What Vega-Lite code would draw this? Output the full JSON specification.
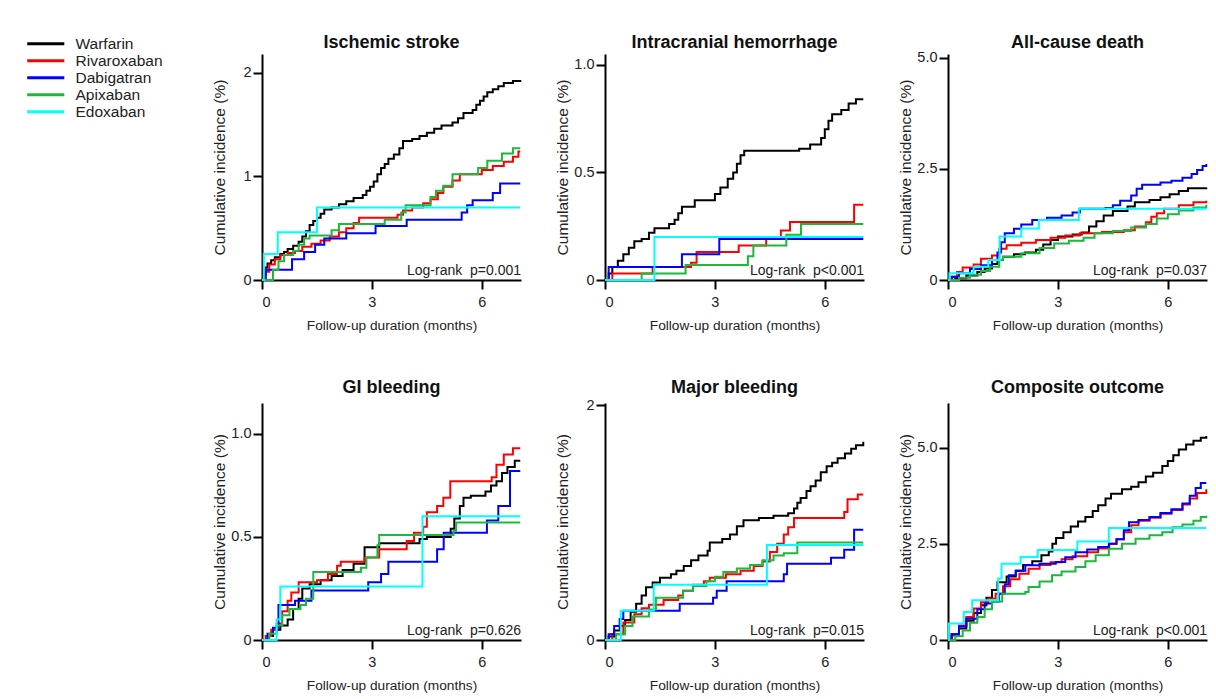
{
 "$schema": "https://vega.github.io/schema/vega-lite/v6.json",
 "background": "white",
 "padding": {"left": 38, "top": 33, "right": 5, "bottom": 5},
 "columns": 3,
 "spacing": {"row": 123, "column": 84},
 "bounds": "flush",
 "align": "each",
 "datasets": {
  "IS": [
   {"d":"Warfarin","t":0,"y":0},{"d":"Warfarin","t":0.05,"y":0.05},{"d":"Warfarin","t":0.1,"y":0.12},{"d":"Warfarin","t":0.15,"y":0.16},{"d":"Warfarin","t":0.25,"y":0.19},{"d":"Warfarin","t":0.35,"y":0.22},{"d":"Warfarin","t":0.5,"y":0.25},{"d":"Warfarin","t":0.6,"y":0.27},{"d":"Warfarin","t":0.7,"y":0.3},{"d":"Warfarin","t":0.85,"y":0.33},{"d":"Warfarin","t":1.0,"y":0.37},{"d":"Warfarin","t":1.1,"y":0.42},{"d":"Warfarin","t":1.2,"y":0.47},{"d":"Warfarin","t":1.3,"y":0.53},{"d":"Warfarin","t":1.4,"y":0.57},{"d":"Warfarin","t":1.5,"y":0.6},{"d":"Warfarin","t":1.6,"y":0.64},{"d":"Warfarin","t":1.7,"y":0.68},{"d":"Warfarin","t":1.9,"y":0.7},{"d":"Warfarin","t":2.1,"y":0.73},{"d":"Warfarin","t":2.3,"y":0.76},{"d":"Warfarin","t":2.5,"y":0.79},{"d":"Warfarin","t":2.75,"y":0.82},{"d":"Warfarin","t":2.85,"y":0.86},{"d":"Warfarin","t":2.95,"y":0.9},{"d":"Warfarin","t":3.05,"y":0.95},{"d":"Warfarin","t":3.15,"y":1.02},{"d":"Warfarin","t":3.25,"y":1.08},{"d":"Warfarin","t":3.35,"y":1.12},{"d":"Warfarin","t":3.45,"y":1.17},{"d":"Warfarin","t":3.6,"y":1.21},{"d":"Warfarin","t":3.75,"y":1.27},{"d":"Warfarin","t":3.85,"y":1.34},{"d":"Warfarin","t":4.1,"y":1.36},{"d":"Warfarin","t":4.3,"y":1.39},{"d":"Warfarin","t":4.5,"y":1.42},{"d":"Warfarin","t":4.7,"y":1.46},{"d":"Warfarin","t":4.9,"y":1.49},{"d":"Warfarin","t":5.2,"y":1.52},{"d":"Warfarin","t":5.35,"y":1.56},{"d":"Warfarin","t":5.5,"y":1.61},{"d":"Warfarin","t":5.75,"y":1.64},{"d":"Warfarin","t":5.85,"y":1.69},{"d":"Warfarin","t":5.95,"y":1.73},{"d":"Warfarin","t":6.05,"y":1.77},{"d":"Warfarin","t":6.15,"y":1.81},{"d":"Warfarin","t":6.3,"y":1.84},{"d":"Warfarin","t":6.45,"y":1.87},{"d":"Warfarin","t":6.6,"y":1.9},{"d":"Warfarin","t":6.85,"y":1.92},{"d":"Warfarin","t":7.05,"y":1.93},
   {"d":"Rivaroxaban","t":0,"y":0},{"d":"Rivaroxaban","t":0.1,"y":0.08},{"d":"Rivaroxaban","t":0.2,"y":0.15},{"d":"Rivaroxaban","t":0.35,"y":0.2},{"d":"Rivaroxaban","t":0.5,"y":0.24},{"d":"Rivaroxaban","t":0.7,"y":0.26},{"d":"Rivaroxaban","t":0.9,"y":0.28},{"d":"Rivaroxaban","t":1.1,"y":0.32},{"d":"Rivaroxaban","t":1.35,"y":0.35},{"d":"Rivaroxaban","t":1.6,"y":0.38},{"d":"Rivaroxaban","t":1.85,"y":0.42},{"d":"Rivaroxaban","t":2.1,"y":0.46},{"d":"Rivaroxaban","t":2.3,"y":0.5},{"d":"Rivaroxaban","t":2.5,"y":0.55},{"d":"Rivaroxaban","t":2.65,"y":0.6},{"d":"Rivaroxaban","t":3.7,"y":0.63},{"d":"Rivaroxaban","t":3.85,"y":0.67},{"d":"Rivaroxaban","t":4.1,"y":0.7},{"d":"Rivaroxaban","t":4.4,"y":0.74},{"d":"Rivaroxaban","t":4.6,"y":0.78},{"d":"Rivaroxaban","t":4.8,"y":0.84},{"d":"Rivaroxaban","t":4.95,"y":0.9},{"d":"Rivaroxaban","t":5.2,"y":0.96},{"d":"Rivaroxaban","t":5.4,"y":1.02},{"d":"Rivaroxaban","t":6.0,"y":1.06},{"d":"Rivaroxaban","t":6.3,"y":1.1},{"d":"Rivaroxaban","t":6.6,"y":1.14},{"d":"Rivaroxaban","t":6.85,"y":1.19},{"d":"Rivaroxaban","t":7.0,"y":1.24},{"d":"Rivaroxaban","t":7.05,"y":1.24},
   {"d":"Dabigatran","t":0,"y":0},{"d":"Dabigatran","t":0.1,"y":0.1},{"d":"Dabigatran","t":0.82,"y":0.2},{"d":"Dabigatran","t":1.15,"y":0.27},{"d":"Dabigatran","t":1.45,"y":0.34},{"d":"Dabigatran","t":1.7,"y":0.4},{"d":"Dabigatran","t":2.3,"y":0.45},{"d":"Dabigatran","t":3.1,"y":0.52},{"d":"Dabigatran","t":3.95,"y":0.58},{"d":"Dabigatran","t":5.45,"y":0.65},{"d":"Dabigatran","t":5.6,"y":0.72},{"d":"Dabigatran","t":5.75,"y":0.77},{"d":"Dabigatran","t":6.3,"y":0.84},{"d":"Dabigatran","t":6.5,"y":0.93},{"d":"Dabigatran","t":7.05,"y":0.93},
   {"d":"Apixaban","t":0,"y":0},{"d":"Apixaban","t":0.3,"y":0.1},{"d":"Apixaban","t":0.45,"y":0.18},{"d":"Apixaban","t":0.6,"y":0.24},{"d":"Apixaban","t":0.85,"y":0.28},{"d":"Apixaban","t":1.0,"y":0.34},{"d":"Apixaban","t":1.15,"y":0.4},{"d":"Apixaban","t":1.3,"y":0.43},{"d":"Apixaban","t":1.9,"y":0.48},{"d":"Apixaban","t":2.1,"y":0.54},{"d":"Apixaban","t":3.35,"y":0.58},{"d":"Apixaban","t":3.8,"y":0.65},{"d":"Apixaban","t":3.92,"y":0.72},{"d":"Apixaban","t":4.6,"y":0.8},{"d":"Apixaban","t":4.75,"y":0.86},{"d":"Apixaban","t":4.95,"y":0.91},{"d":"Apixaban","t":5.2,"y":1.02},{"d":"Apixaban","t":5.9,"y":1.08},{"d":"Apixaban","t":6.15,"y":1.15},{"d":"Apixaban","t":6.55,"y":1.22},{"d":"Apixaban","t":6.85,"y":1.27},{"d":"Apixaban","t":7.05,"y":1.27},
   {"d":"Edoxaban","t":0,"y":0},{"d":"Edoxaban","t":0.05,"y":0.25},{"d":"Edoxaban","t":0.43,"y":0.46},{"d":"Edoxaban","t":1.5,"y":0.7},{"d":"Edoxaban","t":7.05,"y":0.7}
  ],
  "ICH": [
   {"d":"Warfarin","t":0,"y":0},{"d":"Warfarin","t":0.1,"y":0.03},{"d":"Warfarin","t":0.2,"y":0.06},{"d":"Warfarin","t":0.35,"y":0.09},{"d":"Warfarin","t":0.5,"y":0.12},{"d":"Warfarin","t":0.65,"y":0.15},{"d":"Warfarin","t":0.8,"y":0.18},{"d":"Warfarin","t":1.0,"y":0.19},{"d":"Warfarin","t":1.2,"y":0.22},{"d":"Warfarin","t":1.35,"y":0.24},{"d":"Warfarin","t":1.75,"y":0.26},{"d":"Warfarin","t":1.9,"y":0.28},{"d":"Warfarin","t":2.0,"y":0.31},{"d":"Warfarin","t":2.1,"y":0.34},{"d":"Warfarin","t":2.45,"y":0.37},{"d":"Warfarin","t":3.0,"y":0.4},{"d":"Warfarin","t":3.15,"y":0.43},{"d":"Warfarin","t":3.35,"y":0.47},{"d":"Warfarin","t":3.5,"y":0.5},{"d":"Warfarin","t":3.6,"y":0.54},{"d":"Warfarin","t":3.7,"y":0.58},{"d":"Warfarin","t":3.8,"y":0.6},{"d":"Warfarin","t":5.3,"y":0.61},{"d":"Warfarin","t":5.6,"y":0.63},{"d":"Warfarin","t":5.9,"y":0.66},{"d":"Warfarin","t":6.0,"y":0.7},{"d":"Warfarin","t":6.1,"y":0.74},{"d":"Warfarin","t":6.2,"y":0.77},{"d":"Warfarin","t":6.45,"y":0.79},{"d":"Warfarin","t":6.65,"y":0.82},{"d":"Warfarin","t":6.85,"y":0.84},{"d":"Warfarin","t":7.05,"y":0.84},
   {"d":"Rivaroxaban","t":0,"y":0},{"d":"Rivaroxaban","t":0.2,"y":0.03},{"d":"Rivaroxaban","t":1.3,"y":0.06},{"d":"Rivaroxaban","t":2.35,"y":0.08},{"d":"Rivaroxaban","t":2.5,"y":0.13},{"d":"Rivaroxaban","t":3.65,"y":0.16},{"d":"Rivaroxaban","t":4.4,"y":0.19},{"d":"Rivaroxaban","t":4.8,"y":0.23},{"d":"Rivaroxaban","t":5.05,"y":0.27},{"d":"Rivaroxaban","t":6.8,"y":0.35},{"d":"Rivaroxaban","t":7.05,"y":0.35},
   {"d":"Dabigatran","t":0,"y":0},{"d":"Dabigatran","t":0.1,"y":0.06},{"d":"Dabigatran","t":2.1,"y":0.12},{"d":"Dabigatran","t":3.12,"y":0.19},{"d":"Dabigatran","t":7.05,"y":0.19},
   {"d":"Apixaban","t":0,"y":0},{"d":"Apixaban","t":1.0,"y":0.03},{"d":"Apixaban","t":2.2,"y":0.07},{"d":"Apixaban","t":3.9,"y":0.11},{"d":"Apixaban","t":4.05,"y":0.16},{"d":"Apixaban","t":4.95,"y":0.21},{"d":"Apixaban","t":5.35,"y":0.26},{"d":"Apixaban","t":7.05,"y":0.26},
   {"d":"Edoxaban","t":0,"y":0},{"d":"Edoxaban","t":1.35,"y":0.2},{"d":"Edoxaban","t":7.05,"y":0.2}
  ],
  "ACD": [
   {"d":"Warfarin","t":0,"y":0},{"d":"Warfarin","t":0.2,"y":0.04},{"d":"Warfarin","t":0.5,"y":0.1},{"d":"Warfarin","t":0.8,"y":0.18},{"d":"Warfarin","t":1.0,"y":0.26},{"d":"Warfarin","t":1.2,"y":0.36},{"d":"Warfarin","t":1.35,"y":0.45},{"d":"Warfarin","t":1.5,"y":0.52},{"d":"Warfarin","t":1.8,"y":0.58},{"d":"Warfarin","t":2.1,"y":0.62},{"d":"Warfarin","t":2.4,"y":0.68},{"d":"Warfarin","t":2.6,"y":0.8},{"d":"Warfarin","t":2.8,"y":0.9},{"d":"Warfarin","t":3.0,"y":0.98},{"d":"Warfarin","t":3.4,"y":1.02},{"d":"Warfarin","t":3.65,"y":1.07},{"d":"Warfarin","t":3.85,"y":1.2},{"d":"Warfarin","t":4.05,"y":1.32},{"d":"Warfarin","t":4.25,"y":1.45},{"d":"Warfarin","t":4.5,"y":1.55},{"d":"Warfarin","t":4.9,"y":1.65},{"d":"Warfarin","t":5.1,"y":1.75},{"d":"Warfarin","t":5.5,"y":1.8},{"d":"Warfarin","t":5.8,"y":1.86},{"d":"Warfarin","t":6.05,"y":1.93},{"d":"Warfarin","t":6.3,"y":2.0},{"d":"Warfarin","t":6.55,"y":2.06},{"d":"Warfarin","t":7.05,"y":2.08},
   {"d":"Rivaroxaban","t":0,"y":0},{"d":"Rivaroxaban","t":0.1,"y":0.08},{"d":"Rivaroxaban","t":0.25,"y":0.18},{"d":"Rivaroxaban","t":0.4,"y":0.28},{"d":"Rivaroxaban","t":0.7,"y":0.35},{"d":"Rivaroxaban","t":0.9,"y":0.48},{"d":"Rivaroxaban","t":1.2,"y":0.55},{"d":"Rivaroxaban","t":1.4,"y":0.7},{"d":"Rivaroxaban","t":1.6,"y":0.78},{"d":"Rivaroxaban","t":2.0,"y":0.84},{"d":"Rivaroxaban","t":2.4,"y":0.9},{"d":"Rivaroxaban","t":2.8,"y":0.95},{"d":"Rivaroxaban","t":3.2,"y":1.0},{"d":"Rivaroxaban","t":3.6,"y":1.05},{"d":"Rivaroxaban","t":4.2,"y":1.08},{"d":"Rivaroxaban","t":4.8,"y":1.12},{"d":"Rivaroxaban","t":5.1,"y":1.2},{"d":"Rivaroxaban","t":5.4,"y":1.3},{"d":"Rivaroxaban","t":5.55,"y":1.42},{"d":"Rivaroxaban","t":5.7,"y":1.5},{"d":"Rivaroxaban","t":5.9,"y":1.6},{"d":"Rivaroxaban","t":6.3,"y":1.68},{"d":"Rivaroxaban","t":6.7,"y":1.75},{"d":"Rivaroxaban","t":7.05,"y":1.78},
   {"d":"Dabigatran","t":0,"y":0},{"d":"Dabigatran","t":0.1,"y":0.07},{"d":"Dabigatran","t":0.3,"y":0.15},{"d":"Dabigatran","t":0.6,"y":0.25},{"d":"Dabigatran","t":0.9,"y":0.33},{"d":"Dabigatran","t":1.2,"y":0.45},{"d":"Dabigatran","t":1.35,"y":0.62},{"d":"Dabigatran","t":1.45,"y":0.85},{"d":"Dabigatran","t":1.55,"y":1.05},{"d":"Dabigatran","t":1.8,"y":1.15},{"d":"Dabigatran","t":2.0,"y":1.25},{"d":"Dabigatran","t":2.3,"y":1.35},{"d":"Dabigatran","t":2.7,"y":1.4},{"d":"Dabigatran","t":3.1,"y":1.45},{"d":"Dabigatran","t":3.4,"y":1.52},{"d":"Dabigatran","t":3.6,"y":1.6},{"d":"Dabigatran","t":4.3,"y":1.62},{"d":"Dabigatran","t":4.5,"y":1.68},{"d":"Dabigatran","t":4.7,"y":1.78},{"d":"Dabigatran","t":5.0,"y":1.9},{"d":"Dabigatran","t":5.15,"y":2.05},{"d":"Dabigatran","t":5.3,"y":2.14},{"d":"Dabigatran","t":5.8,"y":2.19},{"d":"Dabigatran","t":6.1,"y":2.23},{"d":"Dabigatran","t":6.4,"y":2.3},{"d":"Dabigatran","t":6.65,"y":2.38},{"d":"Dabigatran","t":6.8,"y":2.47},{"d":"Dabigatran","t":6.95,"y":2.56},{"d":"Dabigatran","t":7.05,"y":2.61},
   {"d":"Apixaban","t":0,"y":0},{"d":"Apixaban","t":0.3,"y":0.05},{"d":"Apixaban","t":0.6,"y":0.12},{"d":"Apixaban","t":0.9,"y":0.2},{"d":"Apixaban","t":1.15,"y":0.3},{"d":"Apixaban","t":1.4,"y":0.45},{"d":"Apixaban","t":1.5,"y":0.52},{"d":"Apixaban","t":2.0,"y":0.6},{"d":"Apixaban","t":2.5,"y":0.72},{"d":"Apixaban","t":2.9,"y":0.82},{"d":"Apixaban","t":3.3,"y":0.88},{"d":"Apixaban","t":3.7,"y":0.95},{"d":"Apixaban","t":4.0,"y":1.05},{"d":"Apixaban","t":4.5,"y":1.1},{"d":"Apixaban","t":5.0,"y":1.18},{"d":"Apixaban","t":5.4,"y":1.26},{"d":"Apixaban","t":5.7,"y":1.38},{"d":"Apixaban","t":6.0,"y":1.48},{"d":"Apixaban","t":6.3,"y":1.56},{"d":"Apixaban","t":6.7,"y":1.63},{"d":"Apixaban","t":7.05,"y":1.69},
   {"d":"Edoxaban","t":0,"y":0},{"d":"Edoxaban","t":0.04,"y":0.15},{"d":"Edoxaban","t":0.7,"y":0.3},{"d":"Edoxaban","t":1.1,"y":0.45},{"d":"Edoxaban","t":1.41,"y":0.98},{"d":"Edoxaban","t":2.0,"y":1.16},{"d":"Edoxaban","t":2.48,"y":1.35},{"d":"Edoxaban","t":3.57,"y":1.6},{"d":"Edoxaban","t":7.05,"y":1.6}
  ],
  "GI": [
   {"d":"Warfarin","t":0,"y":0},{"d":"Warfarin","t":0.15,"y":0.02},{"d":"Warfarin","t":0.3,"y":0.05},{"d":"Warfarin","t":0.5,"y":0.07},{"d":"Warfarin","t":0.7,"y":0.1},{"d":"Warfarin","t":0.85,"y":0.15},{"d":"Warfarin","t":1.0,"y":0.2},{"d":"Warfarin","t":1.1,"y":0.25},{"d":"Warfarin","t":1.3,"y":0.27},{"d":"Warfarin","t":1.6,"y":0.29},{"d":"Warfarin","t":1.9,"y":0.31},{"d":"Warfarin","t":2.2,"y":0.34},{"d":"Warfarin","t":2.5,"y":0.37},{"d":"Warfarin","t":2.8,"y":0.45},{"d":"Warfarin","t":3.2,"y":0.47},{"d":"Warfarin","t":4.3,"y":0.49},{"d":"Warfarin","t":4.5,"y":0.5},{"d":"Warfarin","t":5.15,"y":0.54},{"d":"Warfarin","t":5.25,"y":0.59},{"d":"Warfarin","t":5.4,"y":0.65},{"d":"Warfarin","t":5.5,"y":0.69},{"d":"Warfarin","t":5.7,"y":0.7},{"d":"Warfarin","t":6.1,"y":0.72},{"d":"Warfarin","t":6.25,"y":0.75},{"d":"Warfarin","t":6.4,"y":0.77},{"d":"Warfarin","t":6.55,"y":0.81},{"d":"Warfarin","t":6.7,"y":0.84},{"d":"Warfarin","t":6.9,"y":0.87},{"d":"Warfarin","t":7.05,"y":0.87},
   {"d":"Rivaroxaban","t":0,"y":0},{"d":"Rivaroxaban","t":0.1,"y":0.02},{"d":"Rivaroxaban","t":0.25,"y":0.05},{"d":"Rivaroxaban","t":0.4,"y":0.08},{"d":"Rivaroxaban","t":0.55,"y":0.14},{"d":"Rivaroxaban","t":0.7,"y":0.19},{"d":"Rivaroxaban","t":0.8,"y":0.23},{"d":"Rivaroxaban","t":1.0,"y":0.28},{"d":"Rivaroxaban","t":1.5,"y":0.29},{"d":"Rivaroxaban","t":1.8,"y":0.32},{"d":"Rivaroxaban","t":2.05,"y":0.36},{"d":"Rivaroxaban","t":2.15,"y":0.38},{"d":"Rivaroxaban","t":2.8,"y":0.4},{"d":"Rivaroxaban","t":3.2,"y":0.44},{"d":"Rivaroxaban","t":3.95,"y":0.48},{"d":"Rivaroxaban","t":4.15,"y":0.52},{"d":"Rivaroxaban","t":4.4,"y":0.55},{"d":"Rivaroxaban","t":4.5,"y":0.62},{"d":"Rivaroxaban","t":4.78,"y":0.65},{"d":"Rivaroxaban","t":4.95,"y":0.69},{"d":"Rivaroxaban","t":5.14,"y":0.77},{"d":"Rivaroxaban","t":6.27,"y":0.79},{"d":"Rivaroxaban","t":6.4,"y":0.85},{"d":"Rivaroxaban","t":6.6,"y":0.9},{"d":"Rivaroxaban","t":6.85,"y":0.93},{"d":"Rivaroxaban","t":7.05,"y":0.93},
   {"d":"Dabigatran","t":0,"y":0},{"d":"Dabigatran","t":0.15,"y":0.03},{"d":"Dabigatran","t":0.3,"y":0.06},{"d":"Dabigatran","t":0.45,"y":0.17},{"d":"Dabigatran","t":0.9,"y":0.19},{"d":"Dabigatran","t":1.35,"y":0.24},{"d":"Dabigatran","t":2.9,"y":0.28},{"d":"Dabigatran","t":3.25,"y":0.32},{"d":"Dabigatran","t":3.45,"y":0.38},{"d":"Dabigatran","t":4.78,"y":0.44},{"d":"Dabigatran","t":4.96,"y":0.52},{"d":"Dabigatran","t":6.14,"y":0.58},{"d":"Dabigatran","t":6.45,"y":0.65},{"d":"Dabigatran","t":6.77,"y":0.82},{"d":"Dabigatran","t":7.05,"y":0.82},
   {"d":"Apixaban","t":0,"y":0},{"d":"Apixaban","t":0.2,"y":0.03},{"d":"Apixaban","t":0.4,"y":0.07},{"d":"Apixaban","t":0.55,"y":0.12},{"d":"Apixaban","t":0.75,"y":0.15},{"d":"Apixaban","t":1.05,"y":0.17},{"d":"Apixaban","t":1.2,"y":0.2},{"d":"Apixaban","t":1.4,"y":0.33},{"d":"Apixaban","t":2.7,"y":0.35},{"d":"Apixaban","t":2.85,"y":0.4},{"d":"Apixaban","t":3.15,"y":0.46},{"d":"Apixaban","t":3.2,"y":0.51},{"d":"Apixaban","t":5.23,"y":0.53},{"d":"Apixaban","t":5.3,"y":0.57},{"d":"Apixaban","t":7.05,"y":0.57},
   {"d":"Edoxaban","t":0,"y":0},{"d":"Edoxaban","t":0.4,"y":0.1},{"d":"Edoxaban","t":0.5,"y":0.26},{"d":"Edoxaban","t":4.38,"y":0.6},{"d":"Edoxaban","t":7.05,"y":0.6}
  ],
  "MB": [
   {"d":"Warfarin","t":0,"y":0},{"d":"Warfarin","t":0.1,"y":0.03},{"d":"Warfarin","t":0.25,"y":0.08},{"d":"Warfarin","t":0.4,"y":0.12},{"d":"Warfarin","t":0.55,"y":0.17},{"d":"Warfarin","t":0.7,"y":0.24},{"d":"Warfarin","t":0.85,"y":0.31},{"d":"Warfarin","t":1.0,"y":0.38},{"d":"Warfarin","t":1.12,"y":0.45},{"d":"Warfarin","t":1.3,"y":0.49},{"d":"Warfarin","t":1.5,"y":0.53},{"d":"Warfarin","t":1.8,"y":0.56},{"d":"Warfarin","t":1.95,"y":0.59},{"d":"Warfarin","t":2.15,"y":0.63},{"d":"Warfarin","t":2.35,"y":0.68},{"d":"Warfarin","t":2.55,"y":0.72},{"d":"Warfarin","t":2.8,"y":0.76},{"d":"Warfarin","t":2.86,"y":0.83},{"d":"Warfarin","t":3.2,"y":0.86},{"d":"Warfarin","t":3.41,"y":0.9},{"d":"Warfarin","t":3.6,"y":0.97},{"d":"Warfarin","t":3.78,"y":1.02},{"d":"Warfarin","t":4.2,"y":1.04},{"d":"Warfarin","t":4.6,"y":1.06},{"d":"Warfarin","t":5.0,"y":1.08},{"d":"Warfarin","t":5.16,"y":1.12},{"d":"Warfarin","t":5.25,"y":1.17},{"d":"Warfarin","t":5.34,"y":1.21},{"d":"Warfarin","t":5.5,"y":1.27},{"d":"Warfarin","t":5.61,"y":1.31},{"d":"Warfarin","t":5.75,"y":1.36},{"d":"Warfarin","t":5.89,"y":1.43},{"d":"Warfarin","t":6.05,"y":1.48},{"d":"Warfarin","t":6.2,"y":1.51},{"d":"Warfarin","t":6.35,"y":1.55},{"d":"Warfarin","t":6.55,"y":1.59},{"d":"Warfarin","t":6.72,"y":1.63},{"d":"Warfarin","t":6.85,"y":1.66},{"d":"Warfarin","t":7.05,"y":1.69},
   {"d":"Rivaroxaban","t":0,"y":0},{"d":"Rivaroxaban","t":0.2,"y":0.05},{"d":"Rivaroxaban","t":0.5,"y":0.15},{"d":"Rivaroxaban","t":0.8,"y":0.22},{"d":"Rivaroxaban","t":1.0,"y":0.27},{"d":"Rivaroxaban","t":1.2,"y":0.3},{"d":"Rivaroxaban","t":1.6,"y":0.34},{"d":"Rivaroxaban","t":2.0,"y":0.38},{"d":"Rivaroxaban","t":2.13,"y":0.42},{"d":"Rivaroxaban","t":2.4,"y":0.47},{"d":"Rivaroxaban","t":2.7,"y":0.5},{"d":"Rivaroxaban","t":2.86,"y":0.53},{"d":"Rivaroxaban","t":3.3,"y":0.56},{"d":"Rivaroxaban","t":3.7,"y":0.59},{"d":"Rivaroxaban","t":4.06,"y":0.63},{"d":"Rivaroxaban","t":4.3,"y":0.67},{"d":"Rivaroxaban","t":4.5,"y":0.75},{"d":"Rivaroxaban","t":4.7,"y":0.82},{"d":"Rivaroxaban","t":4.88,"y":0.9},{"d":"Rivaroxaban","t":5.0,"y":0.96},{"d":"Rivaroxaban","t":5.16,"y":1.04},{"d":"Rivaroxaban","t":6.53,"y":1.09},{"d":"Rivaroxaban","t":6.62,"y":1.2},{"d":"Rivaroxaban","t":6.9,"y":1.24},{"d":"Rivaroxaban","t":7.05,"y":1.24},
   {"d":"Dabigatran","t":0,"y":0},{"d":"Dabigatran","t":0.1,"y":0.05},{"d":"Dabigatran","t":0.25,"y":0.12},{"d":"Dabigatran","t":0.4,"y":0.18},{"d":"Dabigatran","t":0.5,"y":0.25},{"d":"Dabigatran","t":2.04,"y":0.31},{"d":"Dabigatran","t":2.95,"y":0.36},{"d":"Dabigatran","t":3.05,"y":0.42},{"d":"Dabigatran","t":3.32,"y":0.5},{"d":"Dabigatran","t":4.88,"y":0.56},{"d":"Dabigatran","t":4.97,"y":0.65},{"d":"Dabigatran","t":6.17,"y":0.7},{"d":"Dabigatran","t":6.53,"y":0.77},{"d":"Dabigatran","t":6.8,"y":0.94},{"d":"Dabigatran","t":7.05,"y":0.94},
   {"d":"Apixaban","t":0,"y":0},{"d":"Apixaban","t":0.3,"y":0.05},{"d":"Apixaban","t":0.55,"y":0.12},{"d":"Apixaban","t":0.75,"y":0.2},{"d":"Apixaban","t":1.2,"y":0.26},{"d":"Apixaban","t":1.39,"y":0.36},{"d":"Apixaban","t":2.13,"y":0.42},{"d":"Apixaban","t":2.4,"y":0.46},{"d":"Apixaban","t":2.77,"y":0.5},{"d":"Apixaban","t":3.0,"y":0.54},{"d":"Apixaban","t":3.23,"y":0.58},{"d":"Apixaban","t":3.6,"y":0.61},{"d":"Apixaban","t":3.96,"y":0.64},{"d":"Apixaban","t":4.3,"y":0.68},{"d":"Apixaban","t":4.6,"y":0.72},{"d":"Apixaban","t":4.88,"y":0.74},{"d":"Apixaban","t":5.25,"y":0.83},{"d":"Apixaban","t":7.05,"y":0.83},
   {"d":"Edoxaban","t":0,"y":0},{"d":"Edoxaban","t":0.43,"y":0.25},{"d":"Edoxaban","t":1.33,"y":0.47},{"d":"Edoxaban","t":4.42,"y":0.81},{"d":"Edoxaban","t":7.05,"y":0.81}
  ],
  "CO": [
   {"d":"Warfarin","t":0,"y":0},{"d":"Warfarin","t":0.1,"y":0.15},{"d":"Warfarin","t":0.3,"y":0.3},{"d":"Warfarin","t":0.5,"y":0.5},{"d":"Warfarin","t":0.7,"y":0.7},{"d":"Warfarin","t":0.9,"y":0.9},{"d":"Warfarin","t":1.05,"y":1.1},{"d":"Warfarin","t":1.2,"y":1.3},{"d":"Warfarin","t":1.35,"y":1.5},{"d":"Warfarin","t":1.6,"y":1.65},{"d":"Warfarin","t":1.85,"y":1.8},{"d":"Warfarin","t":2.05,"y":1.95},{"d":"Warfarin","t":2.3,"y":2.05},{"d":"Warfarin","t":2.55,"y":2.2},{"d":"Warfarin","t":2.75,"y":2.3},{"d":"Warfarin","t":2.85,"y":2.5},{"d":"Warfarin","t":2.95,"y":2.65},{"d":"Warfarin","t":3.15,"y":2.8},{"d":"Warfarin","t":3.35,"y":2.95},{"d":"Warfarin","t":3.55,"y":3.08},{"d":"Warfarin","t":3.75,"y":3.2},{"d":"Warfarin","t":3.95,"y":3.35},{"d":"Warfarin","t":4.1,"y":3.5},{"d":"Warfarin","t":4.3,"y":3.68},{"d":"Warfarin","t":4.45,"y":3.8},{"d":"Warfarin","t":4.75,"y":3.92},{"d":"Warfarin","t":5.0,"y":3.98},{"d":"Warfarin","t":5.2,"y":4.1},{"d":"Warfarin","t":5.4,"y":4.25},{"d":"Warfarin","t":5.6,"y":4.35},{"d":"Warfarin","t":5.85,"y":4.52},{"d":"Warfarin","t":6.0,"y":4.65},{"d":"Warfarin","t":6.15,"y":4.8},{"d":"Warfarin","t":6.3,"y":4.95},{"d":"Warfarin","t":6.5,"y":5.08},{"d":"Warfarin","t":6.7,"y":5.18},{"d":"Warfarin","t":6.9,"y":5.26},{"d":"Warfarin","t":7.05,"y":5.3},
   {"d":"Rivaroxaban","t":0,"y":0},{"d":"Rivaroxaban","t":0.1,"y":0.12},{"d":"Rivaroxaban","t":0.3,"y":0.38},{"d":"Rivaroxaban","t":0.5,"y":0.6},{"d":"Rivaroxaban","t":0.7,"y":0.82},{"d":"Rivaroxaban","t":0.9,"y":0.98},{"d":"Rivaroxaban","t":1.1,"y":1.08},{"d":"Rivaroxaban","t":1.3,"y":1.2},{"d":"Rivaroxaban","t":1.5,"y":1.4},{"d":"Rivaroxaban","t":1.7,"y":1.58},{"d":"Rivaroxaban","t":1.95,"y":1.72},{"d":"Rivaroxaban","t":2.2,"y":1.85},{"d":"Rivaroxaban","t":2.5,"y":1.95},{"d":"Rivaroxaban","t":2.8,"y":2.02},{"d":"Rivaroxaban","t":3.1,"y":2.1},{"d":"Rivaroxaban","t":3.4,"y":2.18},{"d":"Rivaroxaban","t":3.8,"y":2.28},{"d":"Rivaroxaban","t":4.1,"y":2.38},{"d":"Rivaroxaban","t":4.4,"y":2.5},{"d":"Rivaroxaban","t":4.6,"y":2.62},{"d":"Rivaroxaban","t":4.8,"y":2.8},{"d":"Rivaroxaban","t":5.0,"y":2.98},{"d":"Rivaroxaban","t":5.2,"y":3.1},{"d":"Rivaroxaban","t":5.5,"y":3.18},{"d":"Rivaroxaban","t":5.8,"y":3.28},{"d":"Rivaroxaban","t":6.1,"y":3.38},{"d":"Rivaroxaban","t":6.4,"y":3.52},{"d":"Rivaroxaban","t":6.6,"y":3.68},{"d":"Rivaroxaban","t":6.8,"y":3.82},{"d":"Rivaroxaban","t":7.05,"y":3.92},
   {"d":"Dabigatran","t":0,"y":0},{"d":"Dabigatran","t":0.1,"y":0.15},{"d":"Dabigatran","t":0.3,"y":0.35},{"d":"Dabigatran","t":0.5,"y":0.55},{"d":"Dabigatran","t":0.8,"y":0.8},{"d":"Dabigatran","t":1.0,"y":0.95},{"d":"Dabigatran","t":1.2,"y":1.0},{"d":"Dabigatran","t":1.39,"y":1.2},{"d":"Dabigatran","t":1.55,"y":1.45},{"d":"Dabigatran","t":1.66,"y":1.68},{"d":"Dabigatran","t":1.85,"y":1.8},{"d":"Dabigatran","t":2.11,"y":1.94},{"d":"Dabigatran","t":2.5,"y":1.98},{"d":"Dabigatran","t":2.94,"y":2.03},{"d":"Dabigatran","t":3.2,"y":2.15},{"d":"Dabigatran","t":3.48,"y":2.28},{"d":"Dabigatran","t":3.8,"y":2.35},{"d":"Dabigatran","t":4.1,"y":2.42},{"d":"Dabigatran","t":4.39,"y":2.5},{"d":"Dabigatran","t":4.6,"y":2.62},{"d":"Dabigatran","t":4.8,"y":2.85},{"d":"Dabigatran","t":4.94,"y":3.06},{"d":"Dabigatran","t":5.2,"y":3.12},{"d":"Dabigatran","t":5.5,"y":3.2},{"d":"Dabigatran","t":5.8,"y":3.3},{"d":"Dabigatran","t":6.1,"y":3.4},{"d":"Dabigatran","t":6.4,"y":3.55},{"d":"Dabigatran","t":6.6,"y":3.75},{"d":"Dabigatran","t":6.76,"y":3.95},{"d":"Dabigatran","t":6.9,"y":4.08},{"d":"Dabigatran","t":7.05,"y":4.08},
   {"d":"Apixaban","t":0,"y":0},{"d":"Apixaban","t":0.2,"y":0.1},{"d":"Apixaban","t":0.4,"y":0.25},{"d":"Apixaban","t":0.6,"y":0.45},{"d":"Apixaban","t":0.8,"y":0.6},{"d":"Apixaban","t":1.0,"y":0.8},{"d":"Apixaban","t":1.2,"y":1.0},{"d":"Apixaban","t":1.48,"y":1.2},{"d":"Apixaban","t":2.11,"y":1.25},{"d":"Apixaban","t":2.2,"y":1.38},{"d":"Apixaban","t":2.5,"y":1.52},{"d":"Apixaban","t":2.84,"y":1.68},{"d":"Apixaban","t":3.1,"y":1.78},{"d":"Apixaban","t":3.48,"y":1.9},{"d":"Apixaban","t":3.75,"y":2.05},{"d":"Apixaban","t":4.03,"y":2.2},{"d":"Apixaban","t":4.39,"y":2.37},{"d":"Apixaban","t":4.75,"y":2.5},{"d":"Apixaban","t":5.12,"y":2.63},{"d":"Apixaban","t":5.5,"y":2.72},{"d":"Apixaban","t":5.85,"y":2.8},{"d":"Apixaban","t":6.13,"y":2.93},{"d":"Apixaban","t":6.4,"y":3.0},{"d":"Apixaban","t":6.7,"y":3.1},{"d":"Apixaban","t":6.9,"y":3.2},{"d":"Apixaban","t":7.05,"y":3.23},
   {"d":"Edoxaban","t":0,"y":0},{"d":"Edoxaban","t":0.02,"y":0.43},{"d":"Edoxaban","t":0.43,"y":0.73},{"d":"Edoxaban","t":0.66,"y":1.03},{"d":"Edoxaban","t":1.37,"y":1.6},{"d":"Edoxaban","t":1.46,"y":1.98},{"d":"Edoxaban","t":1.98,"y":2.16},{"d":"Edoxaban","t":2.45,"y":2.34},{"d":"Edoxaban","t":3.53,"y":2.56},{"d":"Edoxaban","t":4.39,"y":2.91},{"d":"Edoxaban","t":7.05,"y":2.91}
  ]
 },
 "concat": [
  {
   "width": 259, "height": 226,
   "title": {"text": "Ischemic stroke", "offset": 2},
   "layer": [
    {"data": {"name": "IS"},
     "mark": {"type": "line", "interpolate": "step-after", "strokeWidth": 2},
     "encoding": {
      "x": {"field": "t", "type": "quantitative", "scale": {"domain": [0, 7.07], "nice": false, "zero": false}, "axis": {"values": [0, 3, 6], "title": "Follow-up duration (months)"}},
      "y": {"field": "y", "type": "quantitative", "scale": {"domain": [0, 2.18], "nice": false}, "axis": {"values": [0, 1, 2], "format": "d", "title": "Cumulative incidence (%)"}},
      "color": {"field": "d", "type": "nominal", "scale": {"domain": ["Warfarin", "Rivaroxaban", "Dabigatran", "Apixaban", "Edoxaban"], "range": ["#000000", "#ff0000", "#0000ff", "#1cb83c", "#00ffff"]}, "legend": {"title": null}}
     }},
    {"data": {"values": [{"label": "Log-rank\u00a0 p=0.001"}]},
     "mark": {"type": "text", "align": "right", "baseline": "alphabetic", "dy": -5, "fontSize": 14, "color": "#222"},
     "encoding": {"x": {"datum": 7.07, "type": "quantitative"}, "y": {"datum": 0, "type": "quantitative"}, "text": {"field": "label"}}}
   ]
  },
  {
   "width": 259, "height": 226,
   "title": {"text": "Intracranial hemorrhage", "offset": 2},
   "layer": [
    {"data": {"name": "ICH"},
     "mark": {"type": "line", "interpolate": "step-after", "strokeWidth": 2},
     "encoding": {
      "x": {"field": "t", "type": "quantitative", "scale": {"domain": [0, 7.07], "nice": false, "zero": false}, "axis": {"values": [0, 3, 6], "title": "Follow-up duration (months)"}},
      "y": {"field": "y", "type": "quantitative", "scale": {"domain": [0, 1.05], "nice": false}, "axis": {"values": [0, 0.5, 1], "labelExpr": "datum.value == 0 ? '0' : format(datum.value, '.1f')", "title": "Cumulative incidence (%)"}},
      "color": {"field": "d", "type": "nominal", "scale": {"domain": ["Warfarin", "Rivaroxaban", "Dabigatran", "Apixaban", "Edoxaban"], "range": ["#000000", "#ff0000", "#0000ff", "#1cb83c", "#00ffff"]}, "legend": {"title": null}}
     }},
    {"data": {"values": [{"label": "Log-rank\u00a0 p<0.001"}]},
     "mark": {"type": "text", "align": "right", "baseline": "alphabetic", "dy": -5, "fontSize": 14, "color": "#222"},
     "encoding": {"x": {"datum": 7.07, "type": "quantitative"}, "y": {"datum": 0, "type": "quantitative"}, "text": {"field": "label"}}}
   ]
  },
  {
   "width": 259, "height": 226,
   "title": {"text": "All-cause death", "offset": -2},
   "layer": [
    {"data": {"name": "ACD"},
     "mark": {"type": "line", "interpolate": "step-after", "strokeWidth": 2},
     "encoding": {
      "x": {"field": "t", "type": "quantitative", "scale": {"domain": [0, 7.07], "nice": false, "zero": false}, "axis": {"values": [0, 3, 6], "title": "Follow-up duration (months)"}},
      "y": {"field": "y", "type": "quantitative", "scale": {"domain": [0, 5.08], "nice": false}, "axis": {"values": [0, 2.5, 5], "labelExpr": "datum.value == 0 ? '0' : format(datum.value, '.1f')", "title": "Cumulative incidence (%)"}},
      "color": {"field": "d", "type": "nominal", "scale": {"domain": ["Warfarin", "Rivaroxaban", "Dabigatran", "Apixaban", "Edoxaban"], "range": ["#000000", "#ff0000", "#0000ff", "#1cb83c", "#00ffff"]}, "legend": {"title": null}}
     }},
    {"data": {"values": [{"label": "Log-rank\u00a0 p=0.037"}]},
     "mark": {"type": "text", "align": "right", "baseline": "alphabetic", "dy": -5, "fontSize": 14, "color": "#222"},
     "encoding": {"x": {"datum": 7.07, "type": "quantitative"}, "y": {"datum": 0, "type": "quantitative"}, "text": {"field": "label"}}}
   ]
  },
  {
   "width": 259, "height": 237,
   "title": {"text": "GI bleeding", "offset": 6},
   "layer": [
    {"data": {"name": "GI"},
     "mark": {"type": "line", "interpolate": "step-after", "strokeWidth": 2},
     "encoding": {
      "x": {"field": "t", "type": "quantitative", "scale": {"domain": [0, 7.07], "nice": false, "zero": false}, "axis": {"values": [0, 3, 6], "title": "Follow-up duration (months)"}},
      "y": {"field": "y", "type": "quantitative", "scale": {"domain": [0, 1.15], "nice": false}, "axis": {"values": [0, 0.5, 1], "labelExpr": "datum.value == 0 ? '0' : format(datum.value, '.1f')", "title": "Cumulative incidence (%)"}},
      "color": {"field": "d", "type": "nominal", "scale": {"domain": ["Warfarin", "Rivaroxaban", "Dabigatran", "Apixaban", "Edoxaban"], "range": ["#000000", "#ff0000", "#0000ff", "#1cb83c", "#00ffff"]}, "legend": {"title": null}}
     }},
    {"data": {"values": [{"label": "Log-rank\u00a0 p=0.626"}]},
     "mark": {"type": "text", "align": "right", "baseline": "alphabetic", "dy": -5, "fontSize": 14, "color": "#222"},
     "encoding": {"x": {"datum": 7.07, "type": "quantitative"}, "y": {"datum": 0, "type": "quantitative"}, "text": {"field": "label"}}}
   ]
  },
  {
   "width": 259, "height": 237,
   "title": {"text": "Major bleeding", "offset": 0},
   "layer": [
    {"data": {"name": "MB"},
     "mark": {"type": "line", "interpolate": "step-after", "strokeWidth": 2},
     "encoding": {
      "x": {"field": "t", "type": "quantitative", "scale": {"domain": [0, 7.07], "nice": false, "zero": false}, "axis": {"values": [0, 3, 6], "title": "Follow-up duration (months)"}},
      "y": {"field": "y", "type": "quantitative", "scale": {"domain": [0, 2.02], "nice": false}, "axis": {"values": [0, 1, 2], "format": "d", "title": "Cumulative incidence (%)"}},
      "color": {"field": "d", "type": "nominal", "scale": {"domain": ["Warfarin", "Rivaroxaban", "Dabigatran", "Apixaban", "Edoxaban"], "range": ["#000000", "#ff0000", "#0000ff", "#1cb83c", "#00ffff"]}, "legend": {"title": null}}
     }},
    {"data": {"values": [{"label": "Log-rank\u00a0 p=0.015"}]},
     "mark": {"type": "text", "align": "right", "baseline": "alphabetic", "dy": -5, "fontSize": 14, "color": "#222"},
     "encoding": {"x": {"datum": 7.07, "type": "quantitative"}, "y": {"datum": 0, "type": "quantitative"}, "text": {"field": "label"}}}
   ]
  },
  {
   "width": 259, "height": 237,
   "title": {"text": "Composite outcome", "offset": 6},
   "layer": [
    {"data": {"name": "CO"},
     "mark": {"type": "line", "interpolate": "step-after", "strokeWidth": 2},
     "encoding": {
      "x": {"field": "t", "type": "quantitative", "scale": {"domain": [0, 7.07], "nice": false, "zero": false}, "axis": {"values": [0, 3, 6], "title": "Follow-up duration (months)"}},
      "y": {"field": "y", "type": "quantitative", "scale": {"domain": [0, 6.16], "nice": false}, "axis": {"values": [0, 2.5, 5], "labelExpr": "datum.value == 0 ? '0' : format(datum.value, '.1f')", "title": "Cumulative incidence (%)"}},
      "color": {"field": "d", "type": "nominal", "scale": {"domain": ["Warfarin", "Rivaroxaban", "Dabigatran", "Apixaban", "Edoxaban"], "range": ["#000000", "#ff0000", "#0000ff", "#1cb83c", "#00ffff"]}, "legend": {"title": null}}
     }},
    {"data": {"values": [{"label": "Log-rank\u00a0 p<0.001"}]},
     "mark": {"type": "text", "align": "right", "baseline": "alphabetic", "dy": -5, "fontSize": 14, "color": "#222"},
     "encoding": {"x": {"datum": 7.07, "type": "quantitative"}, "y": {"datum": 0, "type": "quantitative"}, "text": {"field": "label"}}}
   ]
  }
 ],
 "config": {
  "font": "Liberation Sans",
  "view": {"stroke": null},
  "title": {"fontSize": 18, "fontWeight": "bold", "color": "#111111", "anchor": "middle", "frame": "group", "baseline": "alphabetic", "font": "Liberation Sans"},
  "text": {"font": "Liberation Sans"},
  "axis": {"grid": false, "domainColor": "#000000", "domainWidth": 2, "tickColor": "#000000", "tickWidth": 2, "tickSize": 9, "labelFont": "Liberation Sans", "labelFontSize": 14.5, "labelColor": "#222222", "titleFont": "Liberation Sans", "titleFontWeight": "normal", "titleColor": "#222222"},
  "axisX": {"labelPadding": 6.5, "titleFontSize": 13.7, "titleY": 45, "titleBaseline": "middle"},
  "axisY": {"labelPadding": 2, "titleFontSize": 15.5, "titleX": -43, "titleBaseline": "middle"},
  "legend": {"orient": "none", "legendX": -224, "legendY": -18, "symbolType": "M-4,0H4", "symbolSize": 86, "symbolStrokeWidth": 3, "labelFont": "Liberation Sans", "labelFontSize": 15.5, "labelColor": "#222222", "labelOffset": 22, "rowPadding": -0.3, "padding": 0}
 }
}
